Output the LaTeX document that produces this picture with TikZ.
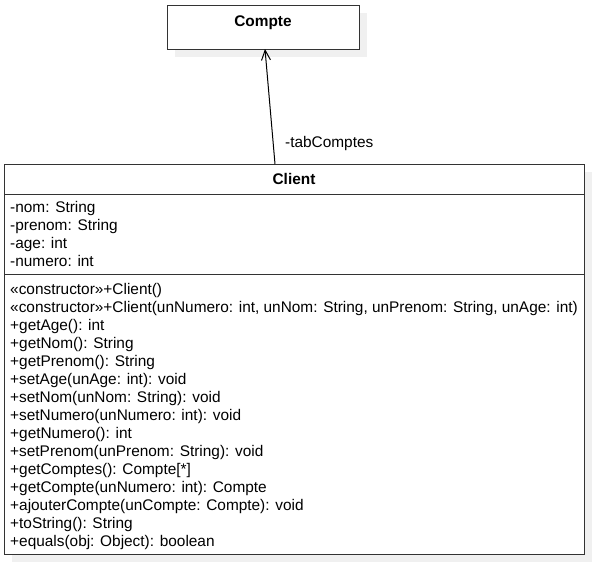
\documentclass[tikz,border=0pt]{standalone}
\usepackage{fontspec}
\setmainfont{Liberation Sans}
\usetikzlibrary{arrows.meta}
\definecolor{shadowgray}{HTML}{F0F0F0}
\definecolor{linegray}{HTML}{333333}
\begin{document}
\begin{tikzpicture}[x=1pt,y=-1pt,
  umltxt/.style={anchor=base west,inner sep=0pt,font=\fontsize{15.4}{18}\selectfont},
  umltitle/.style={anchor=base,inner sep=0pt,font=\fontsize{15.4}{18}\selectfont\bfseries},
  umlbox/.style={draw=linegray,line width=1pt,fill=white},
  umlshadow/.style={fill=shadowgray,draw=none},
  assoc/.style={draw=black,line width=1pt,-{Straight Barb[length=10pt,width=9pt,line width=1pt]}}]
\useasboundingbox[fill=white] (0,0) rectangle (598,568);
% shadows
\fill[umlshadow] (175,13) rectangle (367,57);
\fill[umlshadow] (12,172) rectangle (592,562);
% Compte box
\draw[umlbox] (167,5) rectangle (359,49);
\coordinate (compteBottom) at (265,49);
\node[umltitle] (compte) at (263,26) {Compte};
% Client box
\draw[umlbox] (4,164) rectangle (584,554);
\draw[linegray,line width=1pt] (4,194) -- (584,194);
\draw[linegray,line width=1pt] (4,274) -- (584,274);
\coordinate (clientTop) at (275,164);
\node[umltitle] (client) at (294,184) {Client};
% attributes
\node[umltxt] (a1) at (10,212) {-nom: String};
\node[umltxt] (a2) at (10,230) {-prenom: String};
\node[umltxt] (a3) at (10,248) {-age: int};
\node[umltxt] (a4) at (10,266) {-numero: int};
% methods
\node[umltxt] (m1) at (10,294) {«constructor»+Client()};
\node[umltxt] (m2) at (10,312) {«constructor»+Client(unNumero: int, unNom: String, unPrenom: String, unAge: int)};
\node[umltxt] (m3) at (10,330) {+getAge(): int};
\node[umltxt] (m4) at (10,348) {+getNom(): String};
\node[umltxt] (m5) at (10,366) {+getPrenom(): String};
\node[umltxt] (m6) at (10,384) {+setAge(unAge: int): void};
\node[umltxt] (m7) at (10,402) {+setNom(unNom: String): void};
\node[umltxt] (m8) at (10,420) {+setNumero(unNumero: int): void};
\node[umltxt] (m9) at (10,438) {+getNumero(): int};
\node[umltxt] (m10) at (10,456) {+setPrenom(unPrenom: String): void};
\node[umltxt] (m11) at (10,474) {+getComptes(): Compte[*]};
\node[umltxt] (m12) at (10,492) {+getCompte(unNumero: int): Compte};
\node[umltxt] (m13) at (10,510) {+ajouterCompte(unCompte: Compte): void};
\node[umltxt] (m14) at (10,528) {+toString(): String};
\node[umltxt] (m15) at (10,546) {+equals(obj: Object): boolean};
% association
\draw[assoc] (clientTop) -- (compteBottom);
\node[umltxt] (role) at (285,147) {-tabComptes};
\end{tikzpicture}
\end{document}
